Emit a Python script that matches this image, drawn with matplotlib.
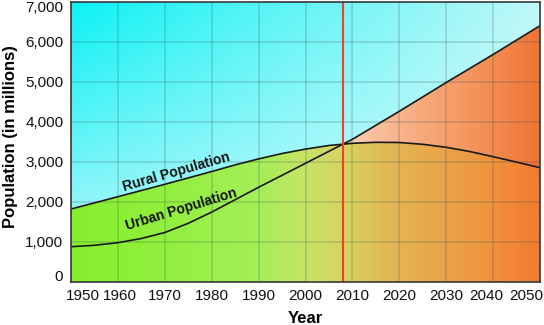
import numpy as np
import matplotlib
matplotlib.use("Agg")
import matplotlib.pyplot as plt
from matplotlib.patches import Polygon
from matplotlib.colors import LinearSegmentedColormap
import matplotlib.transforms as mtransforms

# ---- data (millions) ----
years = [1950, 1955, 1960, 1965, 1970, 1975, 1980, 1985, 1990, 1995, 2000,
         2005, 2010, 2015, 2020, 2025, 2030, 2035, 2040, 2045, 2050]
rural = [1817, 1970, 2125, 2280, 2435, 2595, 2755, 2920, 3070, 3205, 3315,
         3405, 3460, 3485, 3480, 3435, 3360, 3255, 3125, 2990, 2850]
urban = [875, 910, 975, 1080, 1230, 1460, 1740, 2050, 2360, 2660, 2960,
         3260, 3560, 3910, 4260, 4620, 4980, 5330, 5680, 6040, 6400]
crossover_year = 2008
x_ticks = [1950, 1960, 1970, 1980, 1990, 2000, 2010, 2020, 2030, 2040, 2050]
y_ticks = [0, 1000, 2000, 3000, 4000, 5000, 6000, 7000]
y_tick_labels = ["0", "1,000", "2,000", "3,000", "4,000", "5,000", "6,000", "7,000"]

plt.rcParams['font.family'] = ['Liberation Sans', 'DejaVu Sans']

fig = plt.figure(figsize=(5.44, 3.25), dpi=100)
ax = fig.add_axes([71/544, 1 - 281.7/325, (540 - 71)/544, (281.7 - 1.7)/325])
x0, x1, y0, y1 = 1950, 2050, 0, 7000
ax.set_xlim(x0, x1)
ax.set_ylim(y0, y1)
ext = [x0, x1, y0, y1]

# sky gradient (bilinear)
ny, nx = 200, 300
u = np.linspace(0, 1, nx)[None, :, None]
v = np.linspace(0, 1, ny)[:, None, None]   # 0 bottom, 1 top
TL = np.array([0.05, 0.95, 0.96]); TR = np.array([0.75, 0.97, 0.97])
BL = np.array([0.85, 0.97, 0.99]); BR = np.array([0.97, 1.0, 1.0])
top = TL * (1 - u) + TR * u
bot = BL * (1 - u) + BR * u
vv = v ** 0.8
sky = bot * (1 - vv) + top * vv
ax.imshow(sky, extent=ext, origin='lower', aspect='auto', zorder=0, interpolation='bilinear')

def hgrad(stops):
    cmap = LinearSegmentedColormap.from_list('g', stops)
    row = cmap(np.linspace(0, 1, 400))[:, :3]
    return np.repeat(row[None, :, :], 2, axis=0)

low_stops = [(0.0, '#86f02e'), (0.2, '#92ef3e'), (0.4, '#a4ef58'), (0.5, '#c6e466'),
             (0.58, '#d6d462'), (0.7, '#e4b452'), (0.8, '#eaa24a'), (0.9, '#f0923e'),
             (1.0, '#f47a30')]
up_stops = [(0.0, '#f8d8c0'), (0.55, '#fad4b8'), (0.6, '#f9ccb0'), (0.7, '#f8b48c'),
            (0.8, '#f6a06c'), (0.9, '#f38c52'), (1.0, '#f07434')]

# region between rural and urban (visible where urban > rural)
poly_u = Polygon(list(zip([years[0]] + years + [years[-1]], [0] + urban + [0])),
                 closed=True, transform=ax.transData)
im_u = ax.imshow(hgrad(up_stops), extent=ext, origin='lower', aspect='auto',
                 zorder=1, interpolation='bilinear')
im_u.set_clip_path(poly_u)

# region below rural
poly_r = Polygon(list(zip([years[0]] + years + [years[-1]], [0] + rural + [0])),
                 closed=True, transform=ax.transData)
im_r = ax.imshow(hgrad(low_stops), extent=ext, origin='lower', aspect='auto',
                 zorder=2, interpolation='bilinear')
im_r.set_clip_path(poly_r)

# grid
ax.set_xticks(x_ticks)
ax.set_yticks(y_ticks)
ax.set_yticklabels(y_tick_labels)
ax.grid(True, color='#305050', alpha=0.18, linewidth=1.4, zorder=3)
ax.set_axisbelow(False)
for gl in ax.get_xgridlines() + ax.get_ygridlines():
    gl.set_zorder(3)

# curves
ax.plot(years, rural, color='#1a1a1a', lw=1.2, zorder=5, solid_joinstyle='round')
ax.plot(years, urban, color='#1a1a1a', lw=1.2, zorder=5, solid_joinstyle='round')
ax.axvline(crossover_year, color='#f04030', lw=1.5, zorder=6)

# labels on curves
ax.text(1972.4, 2742, "Rural Population", rotation=16, fontsize=10, fontweight='bold',
        ha='center', va='center', zorder=7, rotation_mode='anchor', color='#111111')
ax.text(1973.6, 1805, "Urban Population", rotation=17, fontsize=10, fontweight='bold',
        ha='center', va='center', zorder=7, rotation_mode='anchor', color='#111111')

for s in ax.spines.values():
    s.set_color('#3a3a3a')
    s.set_linewidth(1.2)
    s.set_zorder(8)

ax.tick_params(length=0, labelsize=11, colors='#111111')
ax.tick_params(axis='y', pad=5.5)
ax.tick_params(axis='x', pad=5)

# shift edge tick labels as in the reference
xoff = {1950: 12, 1960: 2, 2040: -7, 2050: -14}
for t, lab in zip(x_ticks, ax.get_xticklabels()):
    if t in xoff:
        lab.set_transform(lab.get_transform() + mtransforms.ScaledTranslation(xoff[t]/100, 0, fig.dpi_scale_trans))
yoff = {0: 6, 7000: -5}
for t, lab in zip(y_ticks, ax.get_yticklabels()):
    if t in yoff:
        lab.set_transform(lab.get_transform() + mtransforms.ScaledTranslation(0, yoff[t]/100, fig.dpi_scale_trans))

ax.set_xlabel("Year", fontsize=12, fontweight='bold')
ax.set_ylabel("Population (in millions)", fontsize=12, fontweight='bold')
ax.xaxis.set_label_coords(0.5, -0.105)
ax.yaxis.set_label_coords(-0.128, 0.517)
ax.yaxis.label.set_va('center')
ax.xaxis.label.set_va('top')

fig.savefig("out.png", dpi=100)
